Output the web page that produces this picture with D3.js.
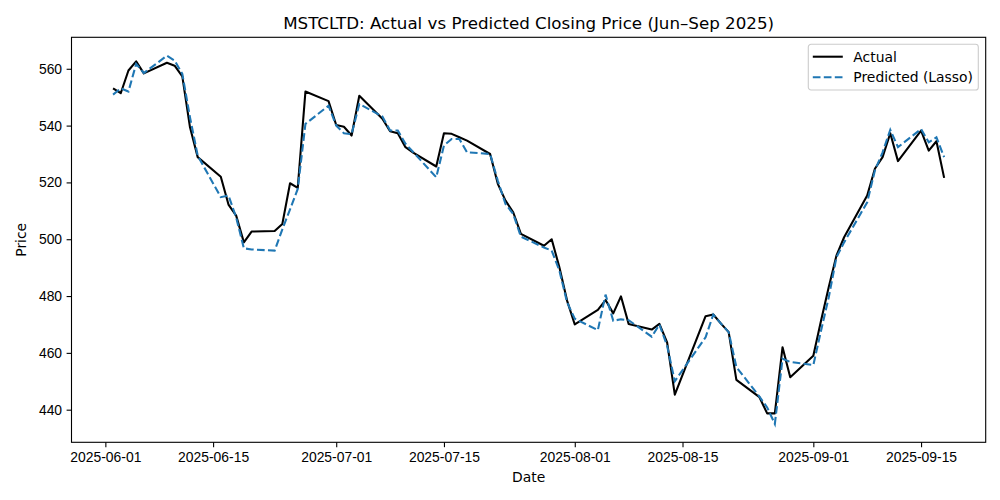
<!DOCTYPE html>
<html>
<head>
<meta charset="utf-8">
<script src="https://cdn.jsdelivr.net/npm/d3@7"></script>
<style>
  body { margin: 0; background: #fff; }
  svg { font-family: "DejaVu Sans", sans-serif; }
  .tick text { font-size: 13.9px; fill: #000; }
  .tick line { stroke: #000; stroke-width: 1.1; }
  .domain { display: none; }
</style>
</head>
<body>
<svg id="chart" width="1000" height="500"></svg>
<script>
// trading dates shown on the chart
const dates = [
  "2025-06-02","2025-06-03","2025-06-04","2025-06-05","2025-06-06",
  "2025-06-09","2025-06-10","2025-06-11","2025-06-12","2025-06-13",
  "2025-06-16","2025-06-17","2025-06-18","2025-06-19","2025-06-20",
  "2025-06-23","2025-06-24","2025-06-25","2025-06-26","2025-06-27",
  "2025-06-30","2025-07-01","2025-07-02","2025-07-03","2025-07-04",
  "2025-07-07","2025-07-08","2025-07-09","2025-07-10","2025-07-11",
  "2025-07-14","2025-07-15","2025-07-16","2025-07-17","2025-07-18",
  "2025-07-21","2025-07-22","2025-07-23","2025-07-24","2025-07-25",
  "2025-07-28","2025-07-29","2025-07-30","2025-07-31","2025-08-01",
  "2025-08-04","2025-08-05","2025-08-06","2025-08-07","2025-08-08",
  "2025-08-11","2025-08-12","2025-08-13","2025-08-14",
  "2025-08-18","2025-08-19","2025-08-20","2025-08-21","2025-08-22",
  "2025-08-25","2025-08-26","2025-08-27","2025-08-28","2025-08-29",
  "2025-09-01","2025-09-02","2025-09-03","2025-09-04","2025-09-05",
  "2025-09-08","2025-09-09","2025-09-10","2025-09-11","2025-09-12",
  "2025-09-15","2025-09-16","2025-09-17","2025-09-18"
];

const actual = [
  553.1, 551.4, 559.4, 562.6, 558.4,
  562.1, 561.1, 557.3, 539.4, 528.9,
  522.0, 512.2, 508.3, 498.9, 502.7,
  502.9, 505.4, 519.7, 518.1, 552.0,
  548.6, 540.2, 539.6, 536.5, 550.5,
  542.4, 538.0, 537.3, 532.4, 530.5,
  525.6, 537.3, 537.1, 535.9, 534.7,
  530.0, 519.5, 513.6, 509.5, 501.9,
  497.7, 500.0, 490.1, 478.4, 470.0,
  475.1, 478.6, 473.9, 479.9, 470.2,
  468.2, 470.2, 463.7, 445.3,
  472.9, 473.5, 470.3, 467.3, 450.5,
  444.4, 438.7, 438.7, 462.0, 451.4,
  459.0, 471.3, 483.1, 494.2, 500.7,
  515.4, 524.8, 528.9, 537.3, 527.5,
  538.2, 531.2, 534.5, 521.6
];

const predicted = [
  550.9, 553.1, 552.0, 561.7, 558.5,
  564.6, 562.9, 558.2, 542.9, 529.4,
  514.8, 515.4, 507.7, 496.8, 496.4,
  496.0, 503.5, 510.5, 517.7, 540.6,
  547.0, 540.0, 537.3, 537.0, 547.6,
  543.2, 538.3, 538.3, 533.6, 530.7,
  521.8, 533.0, 535.3, 535.3, 530.6,
  530.0, 520.6, 512.4, 508.9, 500.9,
  497.1, 496.0, 489.0, 477.8, 472.0,
  468.0, 480.5, 471.3, 471.8, 471.5,
  465.7, 470.0, 462.5, 450.0,
  465.5, 473.5, 470.3, 467.3, 455.0,
  444.6, 440.8, 435.0, 457.9, 456.8,
  455.7, 467.8, 479.5, 493.6, 498.9,
  513.0, 524.2, 530.6, 538.5, 532.4,
  538.8, 534.1, 535.9, 528.9
];

const xTickLabels = ["2025-06-01","2025-06-15","2025-07-01","2025-07-15",
                     "2025-08-01","2025-08-15","2025-09-01","2025-09-15"];
const yTicks = [440, 460, 480, 500, 520, 540, 560];

const margin = {top: 37.3, right: 14.3, bottom: 57.7, left: 71.5};
const W = 1000, H = 500;
const width = W - margin.left - margin.right;
const height = H - margin.top - margin.bottom;

const parse = d3.utcParse("%Y-%m-%d");
const fmt = d3.utcFormat("%Y-%m-%d");
const xs = dates.map(parse);

// matplotlib style 5% padding
const pad = ([a, b]) => { const r = b - a; return [a - 0.05 * r, b + 0.05 * r]; };
const xExt = pad(d3.extent(xs, d => +d));
const yExt = pad(d3.extent(actual.concat(predicted)));

const x = d3.scaleUtc().domain(xExt.map(t => new Date(t))).range([0, width]);
const y = d3.scaleLinear().domain(yExt).range([height, 0]);

const svg = d3.select("#chart");
const g = svg.append("g").attr("transform", `translate(${margin.left},${margin.top})`);

g.append("g")
  .attr("transform", `translate(0,${height})`)
  .call(d3.axisBottom(x).tickValues(xTickLabels.map(parse)).tickFormat(fmt)
        .tickSize(4.9).tickPadding(4.5));

g.append("g")
  .call(d3.axisLeft(y).tickValues(yTicks).tickSize(4.9).tickPadding(4.5));

const line = vals => d3.line()
  .x((d, i) => x(xs[i]))
  .y(d => y(d))(vals);

g.append("path")
  .attr("d", line(actual))
  .attr("fill", "none")
  .attr("stroke", "#000")
  .attr("stroke-width", 2.08)
  .attr("stroke-linejoin", "round");

g.append("path")
  .attr("d", line(predicted))
  .attr("fill", "none")
  .attr("stroke", "#1f77b4")
  .attr("stroke-width", 2.08)
  .attr("stroke-dasharray", "7.7,3.3");

// frame
g.append("rect")
  .attr("width", width).attr("height", height)
  .attr("fill", "none").attr("stroke", "#000").attr("stroke-width", 1.1);

// title and labels
svg.append("text")
  .attr("x", margin.left + width / 2).attr("y", 28.5)
  .attr("text-anchor", "middle").attr("font-size", 16.7)
  .text("MSTCLTD: Actual vs Predicted Closing Price (Jun–Sep 2025)");

svg.append("text")
  .attr("x", margin.left + width / 2).attr("y", 482)
  .attr("text-anchor", "middle").attr("font-size", 13.9)
  .text("Date");

svg.append("text")
  .attr("transform", `translate(26,${margin.top + height / 2}) rotate(-90)`)
  .attr("text-anchor", "middle").attr("font-size", 13.9)
  .text("Price");

// legend
const lg = svg.append("g").attr("transform", "translate(808.3,44.3)");
lg.append("rect")
  .attr("width", 170).attr("height", 45.7).attr("rx", 2.8)
  .attr("fill", "#fff").attr("fill-opacity", 0.8)
  .attr("stroke", "#ccc").attr("stroke-width", 1.1);

const items = [
  {label: "Actual", color: "#000", dash: null},
  {label: "Predicted (Lasso)", color: "#1f77b4", dash: "7.7,3.3"}
];
items.forEach((it, i) => {
  const cy = 12.4 + i * 20.6;
  lg.append("line")
    .attr("x1", 4.5).attr("x2", 34.5).attr("y1", cy).attr("y2", cy)
    .attr("stroke", it.color).attr("stroke-width", 2.08)
    .attr("stroke-dasharray", it.dash);
  lg.append("text")
    .attr("x", 45).attr("y", cy + 5)
    .attr("font-size", 13.9)
    .text(it.label);
});
</script>
</body>
</html>
